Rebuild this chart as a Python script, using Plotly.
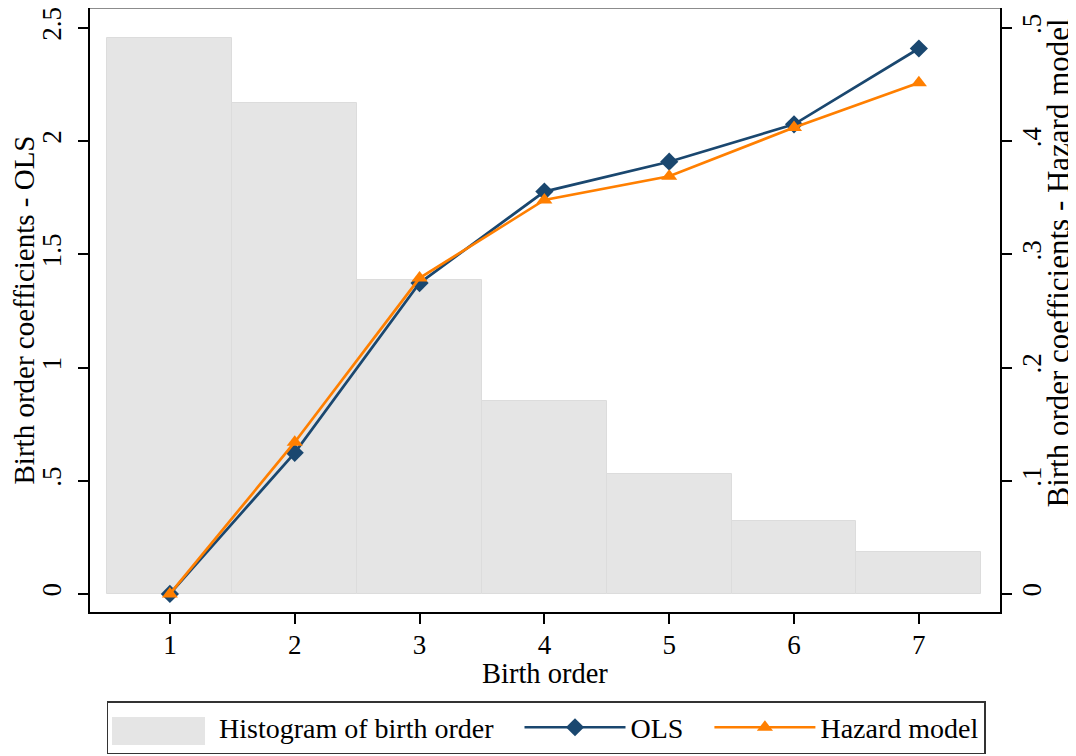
import plotly.graph_objects as go

# birth order categories
birth_order = [1, 2, 3, 4, 5, 6, 7]

# histogram heights (drawn against the left axis scale)
hist_height = [2.457, 2.169, 1.388, 0.851, 0.528, 0.322, 0.185]

# coefficients
ols_coef = [0.0, 0.623, 1.373, 1.777, 1.909, 2.074, 2.409]
hazard_coef = [0.0, 0.134, 0.279, 0.348, 0.369, 0.412, 0.4516]

left_ticks = [0, 0.5, 1, 1.5, 2, 2.5]
left_labels = ["0", ".5", "1", "1.5", "2", "2.5"]
right_ticks = [0, 0.1, 0.2, 0.3, 0.4, 0.5]
right_labels = ["0", ".1", ".2", ".3", ".4", ".5"]

NAVY = "#1a476f"
ORANGE = "#ff7f00"
GREY = "#e5e5e5"
FONT = "Liberation Serif"
NB = "\u00a0"

fig = go.Figure()

fig.add_trace(go.Bar(
    x=birth_order, y=hist_height, width=1,
    name="Histogram of birth order", showlegend=False,
    marker=dict(color=GREY, line=dict(color="#dcdcdc", width=1)),
    yaxis="y",
))

# legend entry for the histogram (swatch drawn as a shape below)
fig.add_trace(go.Scatter(
    x=[None], y=[None], mode="lines", name="Histogram of birth order" + NB * 3,
    line=dict(color="rgba(0,0,0,0)", width=1),
))

fig.add_trace(go.Scatter(
    x=birth_order, y=ols_coef, mode="lines+markers", name="OLS" + NB * 3,
    line=dict(color=NAVY, width=2.7),
    marker=dict(symbol="diamond", size=14, color=NAVY),
    yaxis="y",
))

fig.add_trace(go.Scatter(
    x=birth_order, y=hazard_coef, mode="lines+markers", name="Hazard model",
    line=dict(color=ORANGE, width=2.7),
    marker=dict(symbol="triangle-up", size=14, color=ORANGE),
    yaxis="y2",
))

axis_common = dict(
    showline=True, linecolor="black", linewidth=2,
    ticks="outside", ticklen=10, tickwidth=1.5, tickcolor="black",
    showgrid=False, zeroline=False, ticklabeloverflow="allow",
    tickfont=dict(family=FONT, size=27),
)

fig.update_layout(
    # the page body adds an 8px margin, so the figure is sized to fit inside it
    width=1068, height=748,
    margin=dict(l=82, r=76, t=0, b=144),
    paper_bgcolor="white", plot_bgcolor="white",
    font=dict(family=FONT, size=26, color="black"),
    bargap=0,
    xaxis=dict(
        range=[0.36, 7.65], tickvals=birth_order, ticklabelstandoff=-2,
        **axis_common,
    ),
    yaxis=dict(
        range=[-0.08, 2.588], tickvals=left_ticks, ticktext=left_labels,
        tickangle=-90, ticklabelstandoff=6,
        title=dict(text="Birth order coefficients - OLS", standoff=2, font=dict(size=29)),
        **axis_common,
    ),
    yaxis2=dict(
        range=[-0.016, 0.5176], tickvals=right_ticks, ticktext=right_labels,
        tickangle=-90, overlaying="y", side="right", ticklabelstandoff=-3,
        **axis_common,
    ),
    legend=dict(
        orientation="h", x=0.5011, xanchor="center", y=-0.1474, yanchor="top",
        bordercolor="#333333", borderwidth=1.5, itemwidth=101,
        bgcolor="rgba(0,0,0,0)",
        font=dict(family=FONT, size=28),
        traceorder="normal",
    ),
    annotations=[
        dict(text="Birth order", xref="paper", yref="paper", x=0.5, y=-0.1026,
             xanchor="center", yanchor="middle", showarrow=False,
             font=dict(family=FONT, size=28.5)),
        dict(text="Birth order coefficients - Hazard model", textangle=-90,
             xref="paper", yref="paper", x=1.0632, y=0.5778,
             xanchor="center", yanchor="middle", showarrow=False,
             font=dict(family=FONT, size=31)),
    ],
    shapes=[
        dict(type="line", xref="paper", yref="paper", x0=0, x1=1, y0=1, y1=1,
             line=dict(color="#666666", width=1.5)),
        dict(type="rect", xref="paper", yref="paper", x0=0.0242, x1=0.1264,
             y0=-0.2202, y1=-0.1738, fillcolor=GREY, line=dict(width=0), layer="below"),
    ],
)

fig.write_html("out.html")
